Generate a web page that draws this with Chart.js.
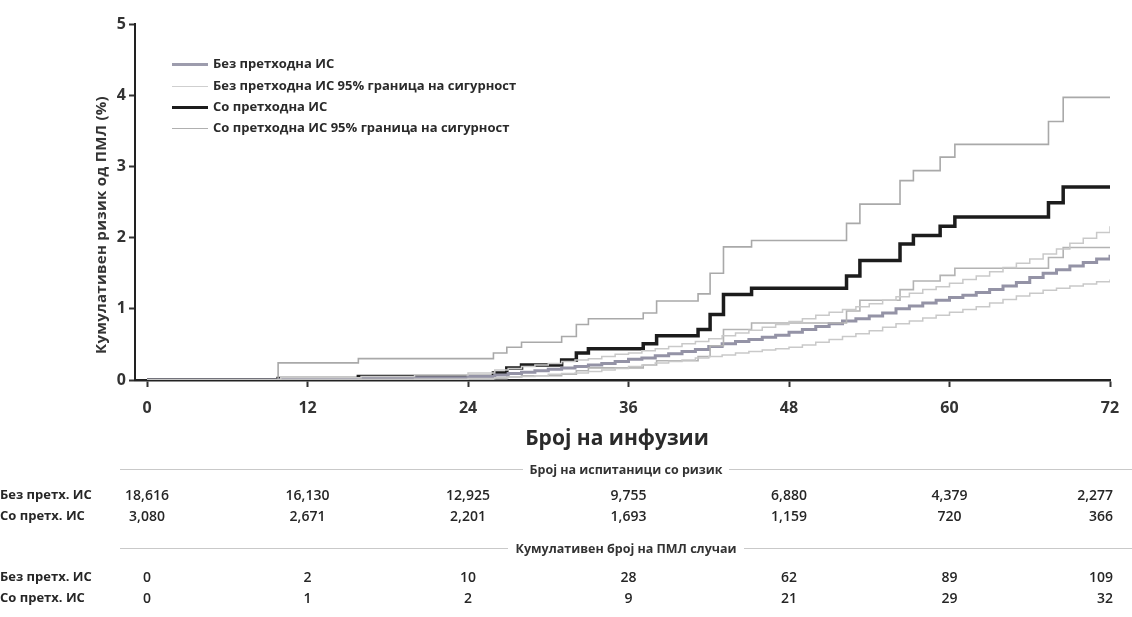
<!DOCTYPE html>
<html>
<head>
<meta charset="utf-8">
<script src="https://cdn.jsdelivr.net/npm/chart.js@4.4.1/dist/chart.umd.min.js"></script>
<style>
  html, body { margin: 0; padding: 0; background: #fff; }
  #wrap { position: relative; width: 1132px; height: 617px; font-family: "Open Sans", sans-serif; color: #262626; }
  #chart { position: absolute; left: 0; top: 0; }
  .t { position: absolute; white-space: nowrap; }
  .lg { position: absolute; left: 172px; height: 18px; line-height: 18px; font-size: 13px; font-weight: 700; letter-spacing: 0px; color: #2a2a2a; }
  .lg span { display: inline-block; width: 36px; vertical-align: middle; margin-right: 5px; }
  .hd { position: absolute; left: 120px; width: 1012px; display: flex; align-items: center; font-size: 12.5px; font-weight: 700; color: #333; }
  .hd i { flex: 1; height: 1px; background: #c9c9c9; }
  .hd b { font-weight: 700; padding: 0 7px; }
  .lab { position: absolute; left: 0; font-size: 13px; font-weight: 700; letter-spacing: 0px; }
  .num { position: absolute; font-size: 14px; font-weight: 600; }
</style>
</head>
<body>
<div id="wrap">
  <canvas id="chart" width="1132" height="617"></canvas>
</div>
<script>
'use strict'

const xTicks = [0, 12, 24, 36, 48, 60, 72]

// Со претходна ИС
const coTimes = [0, 9.8, 15.8, 25.9, 26.9, 28, 31, 32.1, 33, 37.1, 38.1, 41.2, 42.1, 43.1, 45.2, 52.3, 53.3, 56.3, 57.3, 59.3, 60.4, 67.4, 68.5, 72]
const coRisk = [0, 0.02, 0.05, 0.10, 0.17, 0.21, 0.28, 0.38, 0.44, 0.51, 0.62, 0.71, 0.92, 1.20, 1.29, 1.46, 1.68, 1.91, 2.03, 2.16, 2.29, 2.49, 2.71, 2.71]
const coUpper = [0, 0.24, 0.30, 0.38, 0.46, 0.53, 0.61, 0.78, 0.86, 0.94, 1.11, 1.21, 1.50, 1.87, 1.96, 2.20, 2.47, 2.80, 2.94, 3.13, 3.31, 3.63, 3.97, 3.97]
const coLower = [0, 0, 0.01, 0.02, 0.04, 0.06, 0.08, 0.13, 0.17, 0.21, 0.27, 0.33, 0.48, 0.71, 0.80, 0.97, 1.12, 1.27, 1.39, 1.47, 1.57, 1.72, 1.86, 1.86]

// Без претходна ИС
const bezTimes = [0, 10, 16, 20, 24, 26, 27, 28, 29, 30, 31, 32, 33, 34, 35, 36, 37, 38, 39, 40, 41, 42, 43, 44, 45, 46, 47, 48, 49,
  50, 51, 52, 53, 54, 55, 56, 57, 58, 59, 60, 61, 62, 63, 64, 65, 66, 67, 68, 69, 70, 71, 72]
const bezRisk = [0, 0.01, 0.02, 0.03, 0.05, 0.07, 0.09, 0.11, 0.13, 0.15, 0.17, 0.19, 0.21, 0.23, 0.26, 0.29, 0.31, 0.34, 0.37, 0.40,
  0.43, 0.47, 0.51, 0.54, 0.57, 0.60, 0.63, 0.67, 0.71, 0.75, 0.79, 0.83, 0.86, 0.90, 0.94, 1.00, 1.04, 1.08, 1.12, 1.16,
  1.19, 1.23, 1.27, 1.32, 1.37, 1.44, 1.50, 1.55, 1.60, 1.65, 1.70, 1.76]
const bezUpper = [0, 0.03, 0.05, 0.07, 0.10, 0.14, 0.16, 0.19, 0.21, 0.23, 0.26, 0.28, 0.30, 0.33, 0.36, 0.38, 0.41, 0.44, 0.47, 0.51,
  0.54, 0.58, 0.62, 0.66, 0.70, 0.74, 0.78, 0.82, 0.86, 0.91, 0.95, 0.99, 1.03, 1.07, 1.12, 1.17, 1.22, 1.27, 1.31, 1.36,
  1.41, 1.46, 1.52, 1.58, 1.64, 1.70, 1.77, 1.84, 1.92, 1.99, 2.07, 2.16]
const bezLower = [0, 0, 0, 0.01, 0.02, 0.03, 0.04, 0.05, 0.06, 0.08, 0.09, 0.10, 0.12, 0.14, 0.16, 0.19, 0.21, 0.24, 0.26, 0.28,
  0.31, 0.33, 0.35, 0.38, 0.40, 0.42, 0.44, 0.46, 0.49, 0.53, 0.57, 0.61, 0.65, 0.69, 0.74, 0.79, 0.83, 0.87, 0.91, 0.95,
  0.99, 1.03, 1.08, 1.13, 1.18, 1.22, 1.26, 1.29, 1.32, 1.35, 1.38, 1.41]

// табела под графиконот
const tableTicks = [0, 12, 24, 36, 48, 60, 72]
const atRiskBez = ['18,616', '16,130', '12,925', '9,755', '6,880', '4,379', '2,277']
const atRiskCo = ['3,080', '2,671', '2,201', '1,693', '1,159', '720', '366']
const casesBez = ['0', '2', '10', '28', '62', '89', '109']
const casesCo = ['0', '1', '2', '9', '21', '29', '32']

const legendItems = [
  { label: 'Без претходна ИС', color: '#9d9cad', width: 3 },
  { label: 'Без претходна ИС 95% граница на сигурност', color: '#cfcfcf', width: 1.5 },
  { label: 'Со претходна ИС', color: '#1c1c1c', width: 3.5 },
  { label: 'Со претходна ИС 95% граница на сигурност', color: '#b0b0b0', width: 1.5 }
]

function pts(times, vals) {
  return times.map((t, i) => ({ x: t, y: vals[i] }))
}

function series(times, vals, color, width) {
  return {
    data: pts(times, vals),
    borderColor: color,
    borderWidth: width,
    stepped: 'before',
    pointRadius: 0,
    fill: false
  }
}

const tickFont = { family: 'Open Sans', size: 16, weight: '700' }

const chart = new Chart(document.getElementById('chart'), {
  type: 'line',
  data: {
    datasets: [
      series(bezTimes, bezLower, '#c9c9c9', 1.5),
      series(bezTimes, bezUpper, '#c9c9c9', 1.5),
      series(coTimes, coLower, '#b3b3b3', 1.6),
      series(coTimes, coUpper, '#a9a9a9', 1.6),
      series(bezTimes, bezRisk, '#9493a6', 3),
      series(coTimes, coRisk, '#1c1c1c', 3.5)
    ]
  },
  options: {
    responsive: false,
    animation: false,
    layout: { padding: { left: 90, right: 22, top: 24, bottom: 197 } },
    plugins: { legend: { display: false }, tooltip: { enabled: false } },
    scales: {
      x: {
        type: 'linear',
        min: -0.9,
        max: 72,
        afterBuildTicks: axis => { axis.ticks = xTicks.map(v => ({ value: v })) },
        afterFit: axis => { axis.height = 40 },
        grid: { drawOnChartArea: false, tickLength: 7, tickWidth: 2, color: '#333' },
        border: { display: true, color: '#222', width: 2.5 },
        ticks: { color: '#333', font: tickFont, padding: 12, maxRotation: 0, autoSkip: false }
      },
      y: {
        min: 0,
        max: 5,
        afterFit: axis => { axis.width = 45 },
        grid: { drawOnChartArea: false, tickLength: 6, tickWidth: 2, color: '#333' },
        border: { display: true, color: '#222', width: 2 },
        ticks: { stepSize: 1, color: '#333', font: tickFont, padding: 3 }
      }
    }
  }
})

// текстови околу графиконот
const wrap = document.getElementById('wrap')

function addDiv(cls, html, style) {
  const d = document.createElement('div')
  d.className = cls
  d.innerHTML = html
  Object.assign(d.style, style)
  wrap.appendChild(d)
  return d
}

addDiv('t', 'Кумулативен ризик од ПМЛ (%)', {
  left: '100px', top: '225px', fontSize: '15px', fontWeight: '700', color: '#333', letterSpacing: '0.3px',
  transform: 'translate(-50%, -50%) rotate(-90deg)'
})
addDiv('t', 'Број на инфузии', {
  left: '617px', top: '437px', fontSize: '21px', fontWeight: '700', color: '#2a2a2a',
  transform: 'translate(-50%, -50%)'
})

const legendY = [63, 85, 106, 127]
legendItems.forEach((item, i) => {
  addDiv('lg', `<span style="height:${item.width}px;background:${item.color}"></span>${item.label}`, {
    top: (legendY[i] - 9) + 'px'
  })
})

addDiv('hd', '<i></i><b>Број на испитаници со ризик</b><i></i>', { top: '461px' })
addDiv('hd', '<i></i><b>Кумулативен број на ПМЛ случаи</b><i></i>', { top: '540px' })

const rows = [
  { label: 'Без претх. ИС', values: atRiskBez, y: 495 },
  { label: 'Со претх. ИС', values: atRiskCo, y: 516 },
  { label: 'Без претх. ИС', values: casesBez, y: 577 },
  { label: 'Со претх. ИС', values: casesCo, y: 598 }
]

const xScale = chart.scales.x
rows.forEach(row => {
  addDiv('lab', row.label, { top: (row.y - 10) + 'px' })
  row.values.forEach((v, i) => {
    const px = xScale.getPixelForValue(tableTicks[i])
    const last = i === row.values.length - 1
    addDiv('num', v, {
      left: (last ? px + 3 : px) + 'px',
      top: (row.y - 10) + 'px',
      transform: last ? 'translateX(-100%)' : 'translateX(-50%)'
    })
  })
})
</script>
</body>
</html>
